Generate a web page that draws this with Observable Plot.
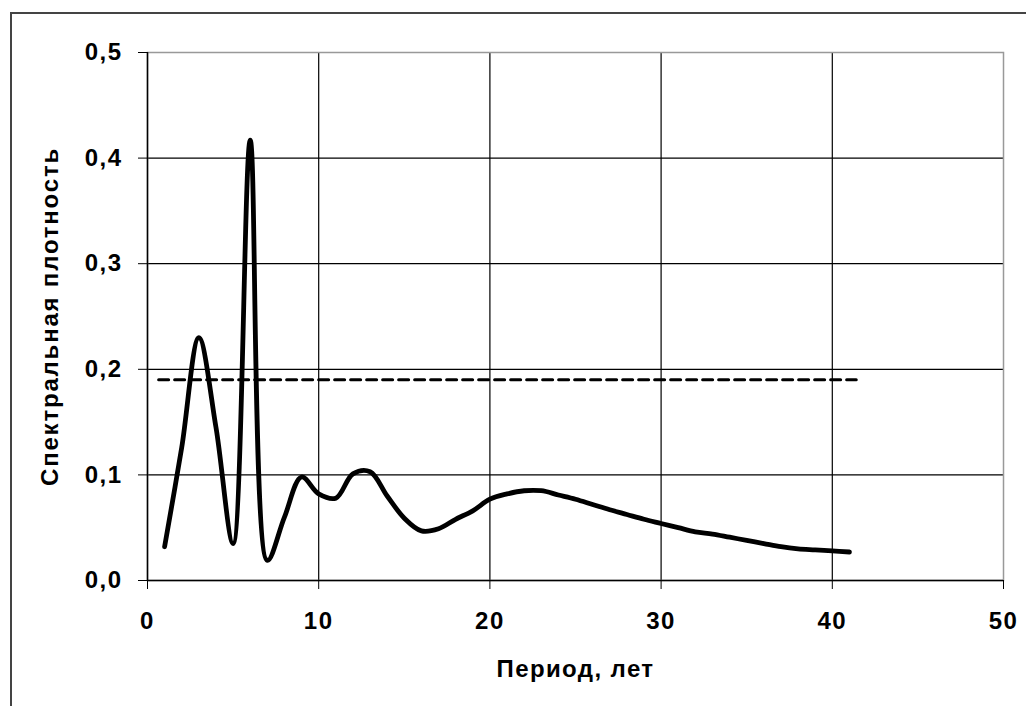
<!DOCTYPE html>
<html>
<head>
<meta charset="utf-8">
<script src="https://cdn.jsdelivr.net/npm/d3@7"></script>
<script src="https://cdn.jsdelivr.net/npm/@observablehq/plot@0.6"></script>
<style>
  html, body { margin: 0; padding: 0; background: #fff; overflow: hidden; }
  #wrap { position: relative; width: 1026px; height: 706px; }
  #border { position: absolute; left: 10px; top: 12px; width: 1100px; height: 800px;
            border: 2px solid #444; pointer-events: none; box-sizing: border-box; }
  #chart { position: absolute; left: 0; top: 0; }
  g[aria-label="y-axis tick label"] text, g[aria-label="x-axis tick label"] text { letter-spacing: 1.5px; }
  g[aria-label="x-axis label"] text { letter-spacing: 1.4px; }
  g[aria-label="y-axis label"] text { letter-spacing: 1.8px; }
</style>
</head>
<body>
<div id="wrap"><div id="border"></div><div id="chart"></div></div>
<script>
// Periods (years) and spectral density values
const periods = [1,2,3,4,5,6,7,8,9,10,11,12,13,14,15,16,17,18,19,20,21,22,23,24,25,26,27,28,29,30,31,32,33,34,35,36,37,38,39,40,41];
const density = [0.032,0.126,0.230,0.145,0.035,0.417,0.019,0.060,0.098,0.082,0.078,0.101,0.103,0.080,0.059,0.047,0.049,0.058,0.066,0.077,0.082,0.085,0.085,0.081,0.077,0.072,0.067,0.0625,0.058,0.054,0.050,0.046,0.044,0.041,0.038,0.035,0.032,0.030,0.029,0.028,0.027];
// Significance threshold (dashed line)
const thresholdX = [0.65, 41.4];
const thresholdY = [0.19, 0.19];
const xTicks = [0,10,20,30,40,50];
const yTicks = [0,0.1,0.2,0.3,0.4,0.5];
const xLabel = "Период, лет";
const yLabel = "Спектральная плотность";

const curve = periods.map((p,i) => ({x: p, y: density[i]}));
const thr = thresholdX.map((x,i) => ({x, y: thresholdY[i]}));
const fmt = d => d.toFixed(1).replace(".", ",");

const chart = Plot.plot({
  width: 1026,
  height: 706,
  marginLeft: 147,
  marginRight: 23,
  marginTop: 52,
  marginBottom: 126,
  style: "font: bold 24px 'Liberation Sans', Arial, sans-serif; background: transparent; overflow: visible; color: #000;",
  x: {domain: [0, 50]},
  y: {domain: [0, 0.5]},
  marks: [
    Plot.gridX(xTicks.slice(1, -1), {stroke: "#000", strokeOpacity: 1, strokeWidth: 1.2}),
    Plot.gridY(yTicks.slice(1, -1), {stroke: "#000", strokeOpacity: 1, strokeWidth: 1.2}),
    Plot.frame({stroke: "#999", strokeWidth: 1.5}),
    Plot.ruleX([0], {stroke: "#000", strokeWidth: 1.5}),
    Plot.ruleY([0], {stroke: "#000", strokeWidth: 1.5}),
    Plot.axisX(xTicks, {tickSize: 9, tickPadding: 22, fontSize: 24, fontWeight: "bold",
      label: xLabel, labelAnchor: "center", labelArrow: "none", labelOffset: 96, stroke: "#000"}),
    Plot.axisY(yTicks, {tickSize: 9, tickPadding: 16, fontSize: 24, fontWeight: "bold", tickFormat: fmt,
      label: yLabel, labelAnchor: "center", labelArrow: "none", labelOffset: 107, stroke: "#000"}),
    Plot.line(thr, {x: "x", y: "y", stroke: "#000", strokeWidth: 3, strokeDasharray: "10,6"}),
    Plot.line(curve, {x: "x", y: "y", stroke: "#000", strokeWidth: 4.8, curve: "catmull-rom", strokeLinejoin: "round"})
  ]
});
document.getElementById("chart").appendChild(chart);
</script>
</body>
</html>
